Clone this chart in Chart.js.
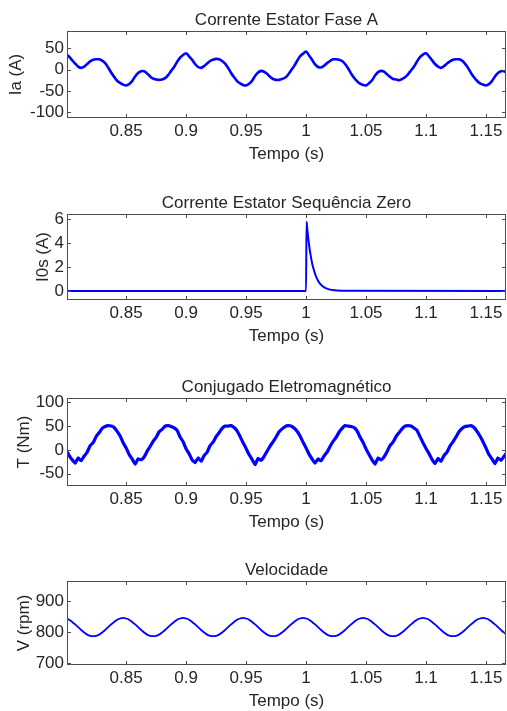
<!DOCTYPE html>
<html>
<head>
<meta charset="utf-8">
<script src="https://cdn.jsdelivr.net/npm/chart.js@4.4.0/dist/chart.umd.min.js"></script>
<style>
  html, body { margin: 0; padding: 0; background: #fff; overflow: hidden; }
  body { width: 507px; height: 711px; position: relative; }
  canvas { position: absolute; left: 0; }
</style>
</head>
<body>
<canvas id="grafIa"></canvas>
<canvas id="grafI0s"></canvas>
<canvas id="grafT"></canvas>
<canvas id="grafV"></canvas>
<script>
// amostragem das formas de onda (s)
const t0 = 0.8;
const dt = 0.0025;

const ticksTempo = [0.85, 0.9, 0.95, 1, 1.05, 1.1, 1.15];
const rotulosTempo = ['0.85', '0.9', '0.95', '1', '1.05', '1.1', '1.15'];

// corrente da fase A (A)
const ia = [
  36, 30, 22, 14, 7, 4, 7, 13, 19, 23, 24, 24, 21, 15, 5, -7, -17, -26, -31, -35,
  -37, -34, -27, -16, -8, -4, -4, -9, -16, -21, -23, -24, -23, -20, -13, -3, 6, 18, 28, 34,
  38, 31, 23, 13, 6, 4, 8, 14, 20, 23, 25, 24, 20, 14, 4, -8, -18, -27, -32, -36,
  -37, -33, -26, -15, -7, -3, -5, -10, -17, -22, -24, -24, -22, -19, -12, -2, 8, 20, 31, 37,
  42, 33, 23, 12, 6, 5, 9, 15, 20, 24, 24, 23, 20, 13, 3, -9, -19, -27, -33, -36,
  -37, -32, -25, -14, -6, -3, -5, -11, -17, -22, -23, -25, -22, -18, -11, -2, 7, 19, 29, 35,
  38, 31, 22, 13, 7, 4, 8, 14, 19, 23, 24, 24, 21, 14, 4, -8, -18, -26, -32, -35,
  -37, -34, -27, -16, -8, -4, -4, -8
];

// corrente de sequência zero (A)
const i0sTempo = [0.8, 1.0, 1.0004, 1.001, 1.002, 1.003, 1.004, 1.005, 1.006, 1.008, 1.010, 1.012, 1.015, 1.018, 1.022, 1.030, 1.17];
const i0s = [0, 0, 5.8, 5.2, 4.3, 3.5, 2.9, 2.35, 1.95, 1.3, 0.87, 0.58, 0.32, 0.18, 0.08, 0.02, 0];

// conjugado eletromagnético (Nm)
const torque = [
  -1, -12, -21,
  -28, -17, -23, -13, -5, 9, 15, 28, 36, 45, 49, 51, 50, 47, 39, 29, 15, 4, -10, -19,
  -30, -19, -21, -15, -3, 7, 18, 26, 38, 43, 50, 51, 49, 46, 41, 27, 17, 2, -8, -21,
  -27, -17, -24, -12, -5, 9, 16, 28, 36, 45, 50, 50, 51, 47, 40, 28, 15, 3, -10, -20,
  -31, -18, -22, -14, -3, 8, 17, 27, 38, 44, 49, 51, 50, 46, 39, 29, 16, 4, -9, -19,
  -28, -19, -23, -13, -5, 7, 18, 26, 37, 45, 51, 50, 49, 47, 40, 27, 16, 2, -10, -21,
  -30, -17, -21, -15, -4, 9, 16, 28, 36, 44, 50, 51, 50, 46, 41, 28, 15, 3, -8, -20,
  -29, -18, -24, -12, -5, 8, 17, 27, 38, 45, 49, 50, 51, 47, 39, 29, 17, 4, -10, -19,
  -29, -17, -22, -14, -5
];

// velocidade do rotor (rpm)
const velocidade = [
  843, 839, 832, 824, 815, 806, 798, 791, 787, 786, 787, 791, 798, 806, 815, 824, 832, 839, 843,
  845, 843, 839, 832, 824, 815, 806, 798, 791, 787, 786, 787, 791, 798, 806, 815, 824, 832, 839, 843,
  845, 843, 839, 832, 824, 815, 806, 798, 791, 787, 786, 787, 791, 798, 806, 815, 824, 832, 839, 843,
  845, 843, 839, 832, 824, 815, 806, 798, 791, 787, 786, 787, 791, 798, 806, 815, 824, 832, 839, 843,
  845, 843, 839, 832, 824, 815, 806, 798, 791, 787, 786, 787, 791, 798, 806, 815, 824, 832, 839, 843,
  845, 843, 839, 832, 824, 815, 806, 798, 791, 787, 786, 787, 791, 798, 806, 815, 824, 832, 839, 843,
  845, 843, 839, 832, 824, 815, 806, 798, 791, 787, 786, 787, 791, 798, 806, 815, 824, 832, 839, 843,
  845, 843, 839, 832, 824, 815, 806, 798, 791
];

const ticksIa = [-100, -50, 0, 50];
const ticksI0s = [0, 2, 4, 6];
const ticksT = [-50, 0, 50, 100];
const ticksV = [700, 800, 900];

const fonte = "'Liberation Sans', Arial, Helvetica, sans-serif";
const corTexto = '#262626';
const azul = '#0000ff';

function amostras(valores) {
  return valores.map((v, i) => ({ x: t0 + i * dt, y: v }));
}

// caixa do eixo com marcas de escala para dentro (estilo MATLAB)
const caixa = {
  id: 'caixa',
  afterDraw(chart) {
    const { ctx, chartArea: a, scales: { x, y } } = chart;
    ctx.save();
    ctx.strokeStyle = '#4d4d4d';
    ctx.lineWidth = 1;
    ctx.beginPath();
    x.ticks.forEach(t => {
      const px = Math.round(x.getPixelForValue(t.value)) + 0.5;
      ctx.moveTo(px, a.bottom); ctx.lineTo(px, a.bottom - 4);
      ctx.moveTo(px, a.top); ctx.lineTo(px, a.top + 4);
    });
    y.ticks.forEach(t => {
      const py = Math.round(y.getPixelForValue(t.value)) + 0.5;
      ctx.moveTo(a.left, py); ctx.lineTo(a.left + 4, py);
      ctx.moveTo(a.right, py); ctx.lineTo(a.right - 4, py);
    });
    ctx.stroke();
    ctx.strokeRect(a.left + 0.5, a.top + 0.5, a.right - a.left - 1, a.bottom - a.top - 1);
    ctx.restore();
  }
};

function grafico(id, cfg) {
  const canvas = document.getElementById(id);
  const alturaCaixa = cfg.base - cfg.topo;
  canvas.width = 507;
  canvas.height = 31 + alturaCaixa + 47;
  canvas.style.top = (cfg.topo - 31) + 'px';

  return new Chart(canvas, {
    type: 'line',
    data: {
      datasets: [{
        data: cfg.dados,
        borderColor: azul,
        borderWidth: cfg.espessura,
        pointRadius: 0,
        tension: cfg.tensao || 0,
        cubicInterpolationMode: cfg.monotono ? 'monotone' : 'default',
        clip: 0
      }]
    },
    options: {
      responsive: false,
      animation: false,
      layout: { padding: { left: 0, right: 1, top: 0, bottom: 0 } },
      plugins: {
        legend: { display: false },
        tooltip: { enabled: false },
        title: {
          display: true,
          fullSize: false,
          text: cfg.titulo,
          color: corTexto,
          font: { family: fonte, size: 17, weight: 'normal' },
          padding: { top: 10.6, bottom: 0 }
        }
      },
      scales: {
        x: {
          type: 'linear',
          min: 0.8007,
          max: 1.1667,
          grid: { display: false, drawTicks: false },
          border: { display: false },
          afterBuildTicks: s => { s.ticks = ticksTempo.map(v => ({ value: v })); },
          afterFit: s => { s.height = 47; },
          ticks: {
            color: corTexto,
            font: { family: fonte, size: 17 },
            padding: 3,
            maxRotation: 0,
            autoSkip: false,
            callback: (v, i) => rotulosTempo[i]
          },
          title: {
            display: true,
            text: 'Tempo (s)',
            color: corTexto,
            font: { family: fonte, size: 17 },
            padding: { top: 0, bottom: 0 }
          }
        },
        y: {
          min: cfg.yMin,
          max: cfg.yMax,
          grid: { display: false, drawTicks: false },
          border: { display: false },
          afterBuildTicks: s => { s.ticks = cfg.ticksY.map(v => ({ value: v })); },
          afterFit: s => { s.width = 67; },
          ticks: {
            color: corTexto,
            font: { family: fonte, size: 17 },
            padding: 3,
            autoSkip: false,
            callback: v => String(v)
          },
          title: {
            display: true,
            text: cfg.rotuloY,
            color: corTexto,
            font: { family: fonte, size: 17 },
            padding: { top: cfg.recuoY, bottom: 0 }
          }
        }
      }
    },
    plugins: [caixa]
  });
}

grafico('grafIa', {
  titulo: 'Corrente Estator Fase A', rotuloY: 'Ia (A)', recuoY: 5.8,
  topo: 31, base: 118, yMin: -113, yMax: 90, ticksY: ticksIa,
  dados: amostras(ia), espessura: 2.6, tensao: 0.3
});

grafico('grafI0s', {
  titulo: 'Corrente Estator Sequência Zero', rotuloY: 'I0s (A)', recuoY: 32.8,
  topo: 214, base: 300, yMin: -0.75, yMax: 6.45, ticksY: ticksI0s,
  dados: i0sTempo.map((t, i) => ({ x: t, y: i0s[i] })), espessura: 2, monotono: true
});

grafico('grafT', {
  titulo: 'Conjugado Eletromagnético', rotuloY: 'T (Nm)', recuoY: 13.8,
  topo: 398, base: 486, yMin: -76, yMax: 109, ticksY: ticksT,
  dados: amostras(torque), espessura: 3.2, tensao: 0.1
});

grafico('grafV', {
  titulo: 'Velocidade', rotuloY: 'V (rpm)', recuoY: 13.8,
  topo: 581, base: 665, yMin: 693, yMax: 964, ticksY: ticksV,
  dados: amostras(velocidade), espessura: 1.8, tensao: 0.4
});
</script>
</body>
</html>
